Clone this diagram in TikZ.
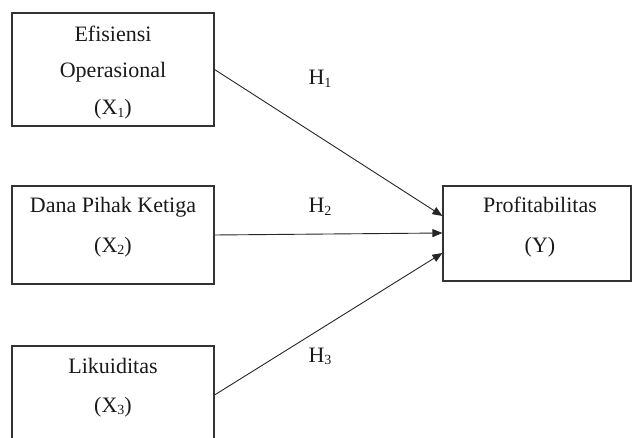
\documentclass[tikz,border=0pt]{standalone}
\usepackage{fontspec}
\setmainfont{Liberation Serif}
\usetikzlibrary{arrows.meta,calc}
\newcommand\subx[1]{\raisebox{-0.12em}{\fontsize{14}{14}\selectfont #1}}
\begin{document}
\begin{tikzpicture}[x=1pt,y=1pt,
  box/.style={draw=black!80,line width=1.1pt,minimum width=#1,inner sep=0pt},
  txt/.style={anchor=base,inner sep=0pt,text=black!90,font=\fontsize{22}{26}\selectfont},
  conn/.style={draw=black!85,line width=0.9pt,-{Triangle[length=10pt,width=8pt]}}]
\useasboundingbox (0,0) rectangle (632,437);
\clip (0,0) rectangle (632,437);
% boxes
\node[box=202pt,minimum height=113pt] (b1) at (113,367.5) {};
\node[box=202pt,minimum height=98pt] (b2) at (113,202) {};
\node[box=202pt,minimum height=98pt] (b3) at (113,42) {};
\node[box=188pt,minimum height=95pt] (bY) at (537,203.5) {};
% texts
\node[txt] (t1a) at (113,395) {Efisiensi};
\node[txt] (t1b) at (113,359) {Operasional};
\node[txt] (t1c) at (113,322) {(X\subx{1})};
\node[txt] (t2a) at (113,224) {Dana Pihak Ketiga};
\node[txt] (t2b) at (113,185) {(X\subx{2})};
\node[txt] (t3a) at (113,64) {Likuiditas};
\node[txt] (t3b) at (113,25) {(X\subx{3})};
\node[txt] (tYa) at (540,224) {Profitabilitas};
\node[txt] (tYb) at (540,184) {(Y)};
% hypothesis labels
\node[txt] (h1) at (320,352) {H\subx{1}};
\node[txt] (h2) at (320,224) {H\subx{2}};
\node[txt] (h3) at (320,75) {H\subx{3}};
% arrow targets
\coordinate (e1) at ($(bY.west)+(0,17.5)$);
\coordinate (e2) at ($(bY.west)+(0,0.5)$);
\coordinate (e3) at ($(bY.west)+(0,-19.5)$);
\draw[conn] (b1.east) -- (e1);
\draw[conn] (b2.east) -- (e2);
\draw[conn] (b3.east) -- (e3);
\end{tikzpicture}
\end{document}
